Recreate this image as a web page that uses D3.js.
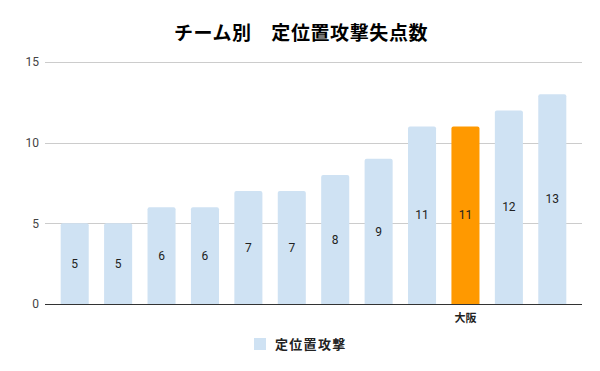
<!DOCTYPE html>
<html>
<head>
<meta charset="utf-8">
<script src="https://cdn.jsdelivr.net/npm/d3@7"></script>
<style>
  body { margin: 0; background: #fff; }
  text { font-family: Roboto, "Noto Sans CJK JP", sans-serif; }
  .jp { font-family: "Noto Sans CJK JP", sans-serif; }
</style>
</head>
<body>
<div id="chart"></div>
<script>
// data
const teams = ["t1", "t2", "t3", "t4", "t5", "t6", "t7", "t8", "t9", "大阪", "t11", "t12"];
const shownLabels = ["", "", "", "", "", "", "", "", "", "大阪", "", ""];
const goalsAgainst = [5, 5, 6, 6, 7, 7, 8, 9, 11, 11, 12, 13];
const yTicks = [0, 5, 10, 15];
const highlight = "大阪";

const width = 600, height = 371;

const svg = d3.select("#chart").append("svg")
  .attr("width", width)
  .attr("height", height);

const x = d3.scaleBand()
  .domain(teams)
  .range([53, 574])
  .paddingInner(0.354)
  .paddingOuter(0.177);

const y = d3.scaleLinear()
  .domain([0, 15])
  .range([304, 62]);

// title
svg.append("text")
  .attr("class", "jp")
  .attr("x", 301)
  .attr("y", 40)
  .attr("text-anchor", "middle")
  .style("font-size", "19px")
  .style("font-weight", "bold")
  .style("letter-spacing", "0.6px")
  .attr("fill", "#000")
  .text("チーム別\u3000定位置攻撃失点数");

// grid
svg.append("g")
  .selectAll("line")
  .data(yTicks.filter(d => d > 0))
  .join("line")
  .attr("x1", 45)
  .attr("x2", 582)
  .attr("y1", d => Math.round(y(d)) + 0.5)
  .attr("y2", d => Math.round(y(d)) + 0.5)
  .attr("stroke", "#cccccc");

svg.append("g")
  .selectAll("text")
  .data(yTicks)
  .join("text")
  .attr("x", 39)
  .attr("y", d => y(d))
  .attr("dy", "0.35em")
  .attr("text-anchor", "end")
  .style("font-size", "12px")
  .attr("fill", "#444")
  .text(d => d);

// bars with slightly rounded tops
const r = 2;
svg.append("g")
  .selectAll("path")
  .data(goalsAgainst)
  .join("path")
  .attr("d", (d, i) => {
    const x0 = x(teams[i]), w = x.bandwidth();
    const top = y(d), bot = y(0);
    return "M" + x0 + "," + bot +
      "V" + (top + r) +
      "Q" + x0 + "," + top + " " + (x0 + r) + "," + top +
      "H" + (x0 + w - r) +
      "Q" + (x0 + w) + "," + top + " " + (x0 + w) + "," + (top + r) +
      "V" + bot + "Z";
  })
  .attr("fill", (d, i) => teams[i] === highlight ? "#ff9900" : "#cfe2f3");

// value labels in bar middle
svg.append("g")
  .selectAll("text")
  .data(goalsAgainst)
  .join("text")
  .attr("x", (d, i) => x(teams[i]) + x.bandwidth() / 2)
  .attr("y", d => (y(d) + y(0)) / 2)
  .attr("dy", "0.35em")
  .attr("text-anchor", "middle")
  .style("font-size", "12px")
  .attr("fill", "#222")
  .text(d => d);

// baseline
svg.append("line")
  .attr("x1", 45)
  .attr("x2", 582)
  .attr("y1", 304.5)
  .attr("y2", 304.5)
  .attr("stroke", "#333");

// x labels (only one shown)
svg.append("g")
  .selectAll("text")
  .data(teams)
  .join("text")
  .attr("class", "jp")
  .attr("x", d => x(d) + x.bandwidth() / 2)
  .attr("y", 322)
  .attr("text-anchor", "middle")
  .style("font-size", "11px")
  .style("font-weight", "bold")
  .attr("fill", "#222")
  .text((d, i) => shownLabels[i]);

// legend
const legend = svg.append("g");
legend.append("rect")
  .attr("x", 254)
  .attr("y", 338)
  .attr("width", 12)
  .attr("height", 12)
  .attr("fill", "#cfe2f3");
legend.append("text")
  .attr("class", "jp")
  .attr("x", 275)
  .attr("y", 344)
  .attr("dy", "0.35em")
  .style("font-size", "13px")
  .style("font-weight", "bold")
  .style("letter-spacing", "1.3px")
  .attr("fill", "#222")
  .text("定位置攻撃");
</script>
</body>
</html>
